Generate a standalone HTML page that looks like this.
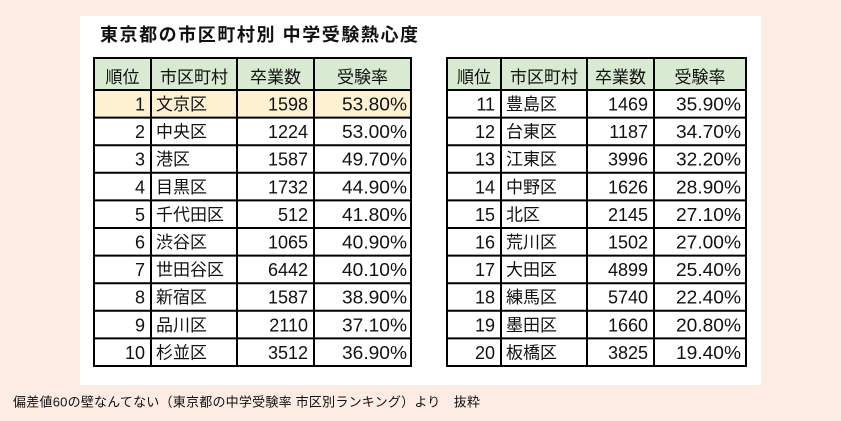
<!DOCTYPE html>
<html><head><meta charset="utf-8"><style>
html,body{margin:0;padding:0;background:#fdece4;}
svg{display:block;}
text{font-family:"Liberation Sans","Noto Sans CJK JP",sans-serif;fill:#111;}
</style></head><body>
<svg width="841" height="421" viewBox="0 0 841 421" xmlns="http://www.w3.org/2000/svg">
<rect x="0" y="0" width="841" height="421" fill="#fdece4"/>
<rect x="80" y="16" width="681" height="369" fill="#ffffff"/>
<text x="100" y="41" font-size="18" font-weight="bold" textLength="318" lengthAdjust="spacing">東京都の市区町村別 中学受験熱心度</text>

<rect x="94" y="58" width="317" height="32" fill="#d9ead3"/>
<rect x="94" y="90" width="317" height="27.6" fill="#fef1d2"/>
<rect x="447" y="58" width="299" height="32" fill="#d9ead3"/>

<g stroke="#000" stroke-width="2" fill="none">
<rect x="94" y="58" width="317" height="308"/>
<line x1="151" y1="58" x2="151" y2="366"/>
<line x1="237" y1="58" x2="237" y2="366"/>
<line x1="314" y1="58" x2="314" y2="366"/>
<line x1="94" y1="90" x2="411" y2="90"/>
<line x1="94" y1="117.6" x2="411" y2="117.6"/>
<line x1="94" y1="145.2" x2="411" y2="145.2"/>
<line x1="94" y1="172.8" x2="411" y2="172.8"/>
<line x1="94" y1="200.4" x2="411" y2="200.4"/>
<line x1="94" y1="228" x2="411" y2="228"/>
<line x1="94" y1="255.6" x2="411" y2="255.6"/>
<line x1="94" y1="283.2" x2="411" y2="283.2"/>
<line x1="94" y1="310.8" x2="411" y2="310.8"/>
<line x1="94" y1="338.4" x2="411" y2="338.4"/>
<rect x="447" y="58" width="299" height="308"/>
<line x1="501" y1="58" x2="501" y2="366"/>
<line x1="587" y1="58" x2="587" y2="366"/>
<line x1="654" y1="58" x2="654" y2="366"/>
<line x1="447" y1="90" x2="746" y2="90"/>
<line x1="447" y1="117.6" x2="746" y2="117.6"/>
<line x1="447" y1="145.2" x2="746" y2="145.2"/>
<line x1="447" y1="172.8" x2="746" y2="172.8"/>
<line x1="447" y1="200.4" x2="746" y2="200.4"/>
<line x1="447" y1="228" x2="746" y2="228"/>
<line x1="447" y1="255.6" x2="746" y2="255.6"/>
<line x1="447" y1="283.2" x2="746" y2="283.2"/>
<line x1="447" y1="310.8" x2="746" y2="310.8"/>
<line x1="447" y1="338.4" x2="746" y2="338.4"/>
</g>

<g font-size="17" text-anchor="middle">
<text x="122.5" y="83">順位</text>
<text x="194" y="83">市区町村</text>
<text x="275.5" y="83">卒業数</text>
<text x="362.5" y="83">受験率</text>
<text x="474" y="83">順位</text>
<text x="544" y="83">市区町村</text>
<text x="620.5" y="83">卒業数</text>
<text x="700" y="83">受験率</text>
</g>

<g font-size="18" text-anchor="end">
<text x="145" y="110.5">1</text>
<text x="145" y="138.1">2</text>
<text x="145" y="165.7">3</text>
<text x="145" y="193.3">4</text>
<text x="145" y="220.9">5</text>
<text x="145" y="248.5">6</text>
<text x="145" y="276.1">7</text>
<text x="145" y="303.7">8</text>
<text x="145" y="331.3">9</text>
<text x="145" y="358.9">10</text>
<text x="308" y="110.5">1598</text>
<text x="308" y="138.1">1224</text>
<text x="308" y="165.7">1587</text>
<text x="308" y="193.3">1732</text>
<text x="308" y="220.9">512</text>
<text x="308" y="248.5">1065</text>
<text x="308" y="276.1">6442</text>
<text x="308" y="303.7">1587</text>
<text x="308" y="331.3">2110</text>
<text x="308" y="358.9">3512</text>
</g>
<g font-size="18">
<text x="342" y="110.5" textLength="65" lengthAdjust="spacingAndGlyphs">53.80%</text>
<text x="342" y="138.1" textLength="65" lengthAdjust="spacingAndGlyphs">53.00%</text>
<text x="342" y="165.7" textLength="65" lengthAdjust="spacingAndGlyphs">49.70%</text>
<text x="342" y="193.3" textLength="65" lengthAdjust="spacingAndGlyphs">44.90%</text>
<text x="342" y="220.9" textLength="65" lengthAdjust="spacingAndGlyphs">41.80%</text>
<text x="342" y="248.5" textLength="65" lengthAdjust="spacingAndGlyphs">40.90%</text>
<text x="342" y="276.1" textLength="65" lengthAdjust="spacingAndGlyphs">40.10%</text>
<text x="342" y="303.7" textLength="65" lengthAdjust="spacingAndGlyphs">38.90%</text>
<text x="342" y="331.3" textLength="65" lengthAdjust="spacingAndGlyphs">37.10%</text>
<text x="342" y="358.9" textLength="65" lengthAdjust="spacingAndGlyphs">36.90%</text>
</g>
<g font-size="17">
<text x="156" y="110">文京区</text>
<text x="156" y="137.6">中央区</text>
<text x="156" y="165.2">港区</text>
<text x="156" y="192.8">目黒区</text>
<text x="156" y="220.4">千代田区</text>
<text x="156" y="248">渋谷区</text>
<text x="156" y="275.6">世田谷区</text>
<text x="156" y="303.2">新宿区</text>
<text x="156" y="330.8">品川区</text>
<text x="156" y="358.4">杉並区</text>
</g>

<g font-size="18" text-anchor="end">
<text x="495" y="110.5">11</text>
<text x="495" y="138.1">12</text>
<text x="495" y="165.7">13</text>
<text x="495" y="193.3">14</text>
<text x="495" y="220.9">15</text>
<text x="495" y="248.5">16</text>
<text x="495" y="276.1">17</text>
<text x="495" y="303.7">18</text>
<text x="495" y="331.3">19</text>
<text x="495" y="358.9">20</text>
<text x="648" y="110.5">1469</text>
<text x="648" y="138.1">1187</text>
<text x="648" y="165.7">3996</text>
<text x="648" y="193.3">1626</text>
<text x="648" y="220.9">2145</text>
<text x="648" y="248.5">1502</text>
<text x="648" y="276.1">4899</text>
<text x="648" y="303.7">5740</text>
<text x="648" y="331.3">1660</text>
<text x="648" y="358.9">3825</text>
</g>
<g font-size="18">
<text x="676" y="110.5" textLength="65" lengthAdjust="spacingAndGlyphs">35.90%</text>
<text x="676" y="138.1" textLength="65" lengthAdjust="spacingAndGlyphs">34.70%</text>
<text x="676" y="165.7" textLength="65" lengthAdjust="spacingAndGlyphs">32.20%</text>
<text x="676" y="193.3" textLength="65" lengthAdjust="spacingAndGlyphs">28.90%</text>
<text x="676" y="220.9" textLength="65" lengthAdjust="spacingAndGlyphs">27.10%</text>
<text x="676" y="248.5" textLength="65" lengthAdjust="spacingAndGlyphs">27.00%</text>
<text x="676" y="276.1" textLength="65" lengthAdjust="spacingAndGlyphs">25.40%</text>
<text x="676" y="303.7" textLength="65" lengthAdjust="spacingAndGlyphs">22.40%</text>
<text x="676" y="331.3" textLength="65" lengthAdjust="spacingAndGlyphs">20.80%</text>
<text x="676" y="358.9" textLength="65" lengthAdjust="spacingAndGlyphs">19.40%</text>
</g>
<g font-size="17">
<text x="506" y="110">豊島区</text>
<text x="506" y="137.6">台東区</text>
<text x="506" y="165.2">江東区</text>
<text x="506" y="192.8">中野区</text>
<text x="506" y="220.4">北区</text>
<text x="506" y="248">荒川区</text>
<text x="506" y="275.6">大田区</text>
<text x="506" y="303.2">練馬区</text>
<text x="506" y="330.8">墨田区</text>
<text x="506" y="358.4">板橋区</text>
</g>

<text x="13" y="406.5" font-size="13" textLength="467" lengthAdjust="spacing">偏差値60の壁なんてない（東京都の中学受験率 市区別ランキング）より　抜粋</text>
</svg>
</body></html>
